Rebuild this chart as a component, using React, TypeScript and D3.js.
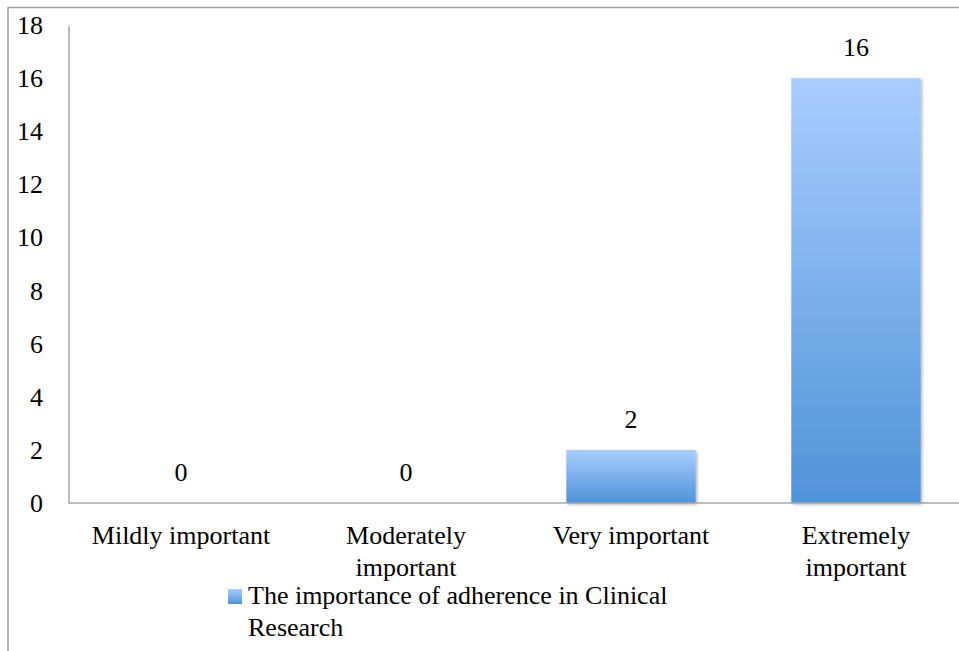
import React from "react";
import * as d3 from "d3";

const categories: string[][] = [
  ["Mildly important"],
  ["Moderately", "important"],
  ["Very important"],
  ["Extremely", "important"],
];
const values: number[] = [0, 0, 2, 16];
const yTicks: number[] = [0, 2, 4, 6, 8, 10, 12, 14, 16, 18];
const seriesName: string[] = ["The importance of adherence in Clinical", "Research"];

const W = 959;
const H = 651;
const FONT = "'Liberation Serif', serif";
const FS = 26;

export default function App() {
  const x = d3
    .scaleBand<number>()
    .domain(categories.map((_, i) => i))
    .range([68.5, 968.5])
    .padding(0);
  const y = d3.scaleLinear().domain([0, 18]).range([503, 25]);
  const barW = x.bandwidth() * 0.575;

  return (
    <svg
      width={W}
      height={H}
      style={{ position: "absolute", left: 0, top: 0, background: "#fff" }}
    >
      <defs>
        <linearGradient id="barFill" x1="0" y1="0" x2="0" y2="1">
          <stop offset="0%" stopColor="#A9CDFF" />
          <stop offset="100%" stopColor="#4F93D8" />
        </linearGradient>
        <linearGradient id="legendFill" x1="0" y1="0" x2="0" y2="1">
          <stop offset="0%" stopColor="#A9CDFF" />
          <stop offset="100%" stopColor="#4F93D8" />
        </linearGradient>
        <filter id="shadow" x="-10%" y="-10%" width="120%" height="120%">
          <feDropShadow dx="1.5" dy="1.5" stdDeviation="1.5" floodColor="#000" floodOpacity="0.3" />
        </filter>
      </defs>

      {/* outer frame */}
      <line x1={8} y1={7.5} x2={W} y2={7.5} stroke="#A0A0A0" strokeWidth={1.5} />
      <line x1={8} y1={7} x2={8} y2={H} stroke="#A0A0A0" strokeWidth={1.5} />

      {/* bars */}
      {values.map((v, i) =>
        v > 0 ? (
          <rect
            key={"b" + i}
            x={x(i)! + (x.bandwidth() - barW) / 2}
            y={y(v)}
            width={barW}
            height={y(0) - y(v)}
            fill="url(#barFill)"
            filter="url(#shadow)"
          />
        ) : null
      )}

      {/* axes */}
      <line x1={69} y1={26} x2={69} y2={503} stroke="#A6A6A6" strokeWidth={1.5} />
      <line x1={68} y1={503} x2={W} y2={503} stroke="#A6A6A6" strokeWidth={1.5} />

      {/* y tick labels */}
      {yTicks.map((t) => (
        <text
          key={"t" + t}
          x={43}
          y={y(t) + 3}
          textAnchor="end"
          dominantBaseline="middle"
          fontFamily={FONT}
          fontSize={FS}
          fill="#000"
        >
          {t}
        </text>
      ))}

      {/* value labels */}
      {values.map((v, i) => (
        <text
          key={"v" + i}
          x={x(i)! + x.bandwidth() / 2}
          y={y(v) - 28}
          textAnchor="middle"
          dominantBaseline="middle"
          fontFamily={FONT}
          fontSize={FS}
          fill="#000"
        >
          {v}
        </text>
      ))}

      {/* category labels */}
      {categories.map((lines, i) => (
        <text
          key={"c" + i}
          textAnchor="middle"
          fontFamily={FONT}
          fontSize={FS}
          fill="#000"
        >
          {lines.map((ln, j) => (
            <tspan
              key={j}
              x={x(i)! + x.bandwidth() / 2}
              y={538 + j * 32}
              dominantBaseline="middle"
            >
              {ln}
            </tspan>
          ))}
        </text>
      ))}

      {/* legend */}
      <rect x={228} y={589} width={14} height={15} fill="url(#legendFill)" />
      <text fontFamily={FONT} fontSize={FS} fill="#000">
        {seriesName.map((ln, j) => (
          <tspan key={j} x={248} y={598 + j * 32} dominantBaseline="middle">
            {ln}
          </tspan>
        ))}
      </text>
    </svg>
  );
}
